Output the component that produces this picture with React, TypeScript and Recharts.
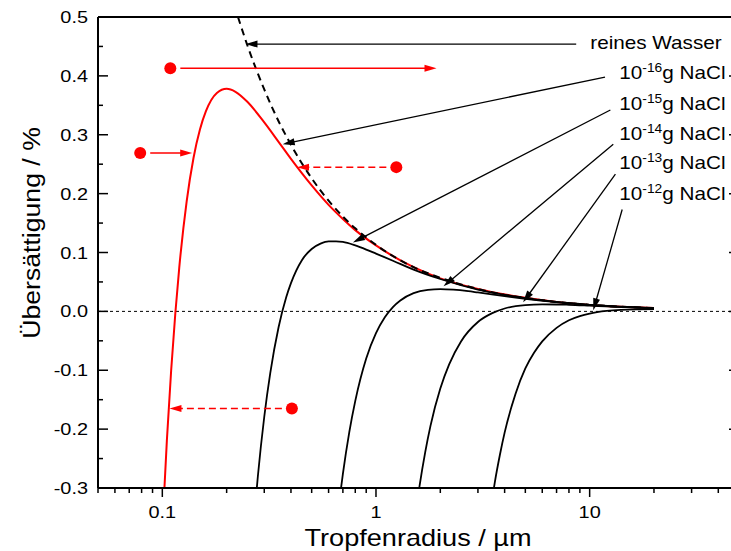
import React from 'react';
import { LineChart, Line, XAxis, YAxis, ReferenceLine, ReferenceDot, Label } from 'recharts';

const FONT = 'Arial, "Liberation Sans", sans-serif';
const RED = '#ff0000';
const PLOT_RIGHT = 739; // right frame sits just outside the 731px window

// Tropfenradius (µm), Übersättigung (%)
const reinesWasser: [number, number][] = [
  [0.226, 0.5], [0.25, 0.452], [0.3, 0.377], [0.35, 0.323], [0.4, 0.283], [0.5, 0.226],
  [0.6, 0.188], [0.7, 0.161], [0.8, 0.141], [1, 0.113], [1.5, 0.075], [2, 0.057],
  [3, 0.038], [4, 0.028], [5, 0.023], [7, 0.016], [10, 0.011], [15, 0.0075], [20, 0.0057],
];

const nacl16: [number, number][] = [
  [0.1, -0.37], [0.105, -0.22], [0.11, -0.1], [0.115, -0.004], [0.12, 0.074], [0.13, 0.187],
  [0.14, 0.261], [0.15, 0.309], [0.16, 0.34], [0.18, 0.371], [0.2, 0.378], [0.22, 0.373],
  [0.25, 0.356], [0.3, 0.321], [0.35, 0.288], [0.4, 0.259], [0.5, 0.214], [0.6, 0.181],
  [0.7, 0.157], [0.8, 0.138], [1, 0.112], [1.5, 0.075], [2, 0.056], [3, 0.038], [5, 0.023],
  [7, 0.016], [10, 0.011], [15, 0.0075], [20, 0.0057],
];

const nacl15: [number, number][] = [
  [0.27, -0.344], [0.28, -0.28], [0.3, -0.179], [0.32, -0.105], [0.35, -0.027], [0.38, 0.024],
  [0.4, 0.048], [0.45, 0.087], [0.5, 0.106], [0.55, 0.115], [0.6, 0.119], [0.65, 0.119],
  [0.7, 0.118], [0.8, 0.112], [0.9, 0.105], [1, 0.098], [1.2, 0.086], [1.5, 0.071],
  [2, 0.055], [3, 0.037], [5, 0.0225], [10, 0.0112], [20, 0.0056],
];

const nacl14: [number, number][] = [
  [0.65, -0.372], [0.68, -0.311], [0.7, -0.276], [0.75, -0.205], [0.8, -0.152], [0.9, -0.08],
  [1, -0.037], [1.1, -0.01], [1.2, 0.0074], [1.3, 0.0186], [1.5, 0.031], [1.75, 0.0366],
  [2, 0.0378], [2.3, 0.0368], [2.7, 0.0343], [3, 0.0321], [4, 0.026], [5, 0.0214],
  [7, 0.0157], [10, 0.0112], [15, 0.0075], [20, 0.0056],
];

const nacl13: [number, number][] = [
  [1.5, -0.369], [1.6, -0.296], [1.7, -0.239], [1.8, -0.194], [2, -0.131], [2.2, -0.09],
  [2.5, -0.051], [3, -0.018], [3.5, -0.003], [4, 0.0049], [5, 0.0106], [6, 0.0119],
  [7, 0.0117], [8, 0.0112], [10, 0.0098], [13, 0.008], [16, 0.0067], [20, 0.0055],
];

const nacl12: [number, number][] = [
  [3.4, -0.348], [3.5, -0.318], [3.6, -0.29], [3.8, -0.244], [4, -0.206], [4.5, -0.14],
  [5, -0.097], [5.5, -0.07], [6, -0.051], [7, -0.028], [8, -0.015], [9, -0.008],
  [10, -0.0037], [12, 0.0007], [14, 0.0026], [17, 0.0035], [20, 0.0038],
];

const X_TICKS = [
  0.05, 0.06, 0.07, 0.08, 0.09, 0.1, 0.2, 0.3, 0.4, 0.5, 0.6, 0.7, 0.8, 0.9,
  1, 2, 3, 4, 5, 6, 7, 8, 9, 10, 20, 30, 40, 50,
];
const X_LABELS = [0.1, 1, 10];
const Y_TICKS = [-0.3, -0.25, -0.2, -0.15, -0.1, -0.05, 0, 0.05, 0.1, 0.15, 0.2, 0.25, 0.3, 0.35, 0.4, 0.45, 0.5];

// annotation arrows: start -> tip (data coords)
const blackArrows: [number, number, number, number][] = [
  [8.65, 0.454, 0.245, 0.454],
  [11.8, 0.398, 0.366, 0.284],
  [12.5, 0.342, 0.78, 0.117],
  [12.9, 0.284, 2.07, 0.0425],
  [13.2, 0.233, 4.88, 0.0153],
  [14.2, 0.173, 10.4, 0.0017],
];
const redArrows: [number, number, number, number, boolean][] = [
  [0.109, 0.413, 1.92, 0.413, false],
  [0.0788, 0.269, 0.138, 0.269, false],
  [1.245, 0.245, 0.427, 0.245, true],
  [0.404, -0.165, 0.108, -0.165, true],
];

const wasserLabel = { x: 10.07, y: 0.4575, text: 'reines Wasser' };
const naclExp = ['-16', '-15', '-14', '-13', '-12'];
const naclLabelX = 13.77;
const naclLabelY = [0.4065, 0.3537, 0.3027, 0.2534, 0.2007];

const toRows = (pts: [number, number][]) => pts.map(([r, s]) => ({ r, s }));

const isMajorY = (v: number) => Math.abs(v * 10 - Math.round(v * 10)) < 1e-6;

// the original lettering is a bit wider than Arial
function SText({ x, y, size, sx, anchor = 'start', rotate = 0, children }: any) {
  const t = `translate(${x},${y})${rotate ? ` rotate(${rotate})` : ''} scale(${sx},1)`;
  return (
    <text transform={t} x={0} y={0} fontSize={size} fontFamily={FONT} textAnchor={anchor} fill="#000">
      {children}
    </text>
  );
}

function XTick({ x, y, payload }: any) {
  const v = payload.value;
  const major = X_LABELS.includes(v);
  return (
    <g>
      <line x1={x} y1={y} x2={x} y2={y + (major ? 9 : 5)} stroke="#000" strokeWidth={1.5} />
      {major && (
        <SText x={x} y={y + 30} size={17} sx={1.17} anchor="middle">
          {v}
        </SText>
      )}
    </g>
  );
}

function YTick({ x, y, payload }: any) {
  const v = payload.value;
  const major = isMajorY(v);
  const len = major ? 10 : 5;
  return (
    <g>
      <line x1={x} y1={y} x2={x + len} y2={y} stroke="#000" strokeWidth={1.5} />
      <line x1={PLOT_RIGHT} y1={y} x2={PLOT_RIGHT - len} y2={y} stroke="#000" strokeWidth={1.5} />
      {major && (
        <SText x={x - 10} y={y + 6} size={17} sx={1.17} anchor="end">
          {v.toFixed(1)}
        </SText>
      )}
    </g>
  );
}

function arrowShape(color: string, dashed: boolean, dot: boolean, width: number) {
  return (p: any) => {
    const { x1, y1, x2, y2 } = p;
    const dx = x2 - x1;
    const dy = y2 - y1;
    const len = Math.hypot(dx, dy) || 1;
    const ux = dx / len;
    const uy = dy / len;
    const headL = 12;
    const headW = 3.5;
    const bx = x2 - ux * headL;
    const by = y2 - uy * headL;
    const sx = dot ? x1 + ux * 10 : x1;
    const sy = dot ? y1 + uy * 10 : y1;
    return (
      <g>
        {dot && <circle cx={x1} cy={y1} r={6} fill={color} />}
        <line
          x1={sx}
          y1={sy}
          x2={bx + ux * 2}
          y2={by + uy * 2}
          stroke={color}
          strokeWidth={width}
          strokeDasharray={dashed ? '7 4' : undefined}
        />
        <polygon
          points={`${x2},${y2} ${bx - uy * headW},${by + ux * headW} ${bx + uy * headW},${by - ux * headW}`}
          fill={color}
        />
      </g>
    );
  };
}

export default function App() {
  return (
    <div style={{ position: 'absolute', left: 0, top: 0, width: 731, height: 551, overflow: 'hidden', background: '#fff' }}>
      <LineChart width={760} height={551} margin={{ top: 17, right: 760 - PLOT_RIGHT, bottom: 0, left: 0 }}>
        <XAxis
          dataKey="r"
          type="number"
          scale="log"
          domain={[0.05, 50]}
          allowDataOverflow
          ticks={X_TICKS}
          interval={0}
          height={63}
          tickSize={0}
          tickMargin={0}
          tickLine={false}
          tick={<XTick />}
          axisLine={{ stroke: '#000', strokeWidth: 2 }}
        >
          <Label
            content={() => (
              <SText x={418} y={546} size={24} sx={1.13} anchor="middle">
                Tropfenradius / µm
              </SText>
            )}
          />
        </XAxis>
        <YAxis
          type="number"
          domain={[-0.3, 0.5]}
          allowDataOverflow
          ticks={Y_TICKS}
          interval={0}
          width={98}
          tickSize={0}
          tickMargin={0}
          tickLine={false}
          tick={<YTick />}
          axisLine={{ stroke: '#000', strokeWidth: 2 }}
        >
          <Label
            content={() => (
              <SText x={40} y={233} size={24} sx={1.11} anchor="middle" rotate={-90}>
                Übersättigung / %
              </SText>
            )}
          />
        </YAxis>

        <ReferenceLine y={0.5} stroke="#000" strokeWidth={2} ifOverflow="visible" />
        <ReferenceLine y={0} stroke="#000" strokeWidth={1} strokeDasharray="3 3" />

        <Line data={toRows(nacl16)} dataKey="s" type="monotone" stroke={RED} strokeWidth={2} dot={false} isAnimationActive={false} />
        <Line data={toRows(nacl15)} dataKey="s" type="monotone" stroke="#000" strokeWidth={1.8} dot={false} isAnimationActive={false} />
        <Line data={toRows(nacl14)} dataKey="s" type="monotone" stroke="#000" strokeWidth={1.8} dot={false} isAnimationActive={false} />
        <Line data={toRows(nacl13)} dataKey="s" type="monotone" stroke="#000" strokeWidth={1.8} dot={false} isAnimationActive={false} />
        <Line data={toRows(nacl12)} dataKey="s" type="monotone" stroke="#000" strokeWidth={1.8} dot={false} isAnimationActive={false} />
        <Line
          data={toRows(reinesWasser)}
          dataKey="s"
          type="monotone"
          stroke="#000"
          strokeWidth={2}
          strokeDasharray="7 5"
          dot={false}
          isAnimationActive={false}
        />

        {blackArrows.map(([xa, ya, xb, yb], i) => (
          <ReferenceLine
            key={`b${i}`}
            segment={[{ x: xa, y: ya }, { x: xb, y: yb }]}
            shape={arrowShape('#000', false, false, 1.3)}
          />
        ))}
        {redArrows.map(([xa, ya, xb, yb, dashed], i) => (
          <ReferenceLine
            key={`r${i}`}
            segment={[{ x: xa, y: ya }, { x: xb, y: yb }]}
            shape={arrowShape(RED, dashed, true, 1.5)}
          />
        ))}

        <ReferenceDot
          x={wasserLabel.x}
          y={wasserLabel.y}
          r={0}
          shape={(p: any) => (
            <SText x={p.cx} y={p.cy + 6.5} size={18} sx={1.15}>
              {wasserLabel.text}
            </SText>
          )}
        />
        {naclExp.map((e, i) => (
          <ReferenceDot
            key={e}
            x={naclLabelX}
            y={naclLabelY[i]}
            r={0}
            shape={(p: any) => (
              <SText x={p.cx} y={p.cy + 6.5} size={18} sx={1.15}>
                10
                <tspan fontSize={12} dy={-7}>{e}</tspan>
                <tspan dy={7}>g NaCl</tspan>
              </SText>
            )}
          />
        ))}
      </LineChart>
    </div>
  );
}
